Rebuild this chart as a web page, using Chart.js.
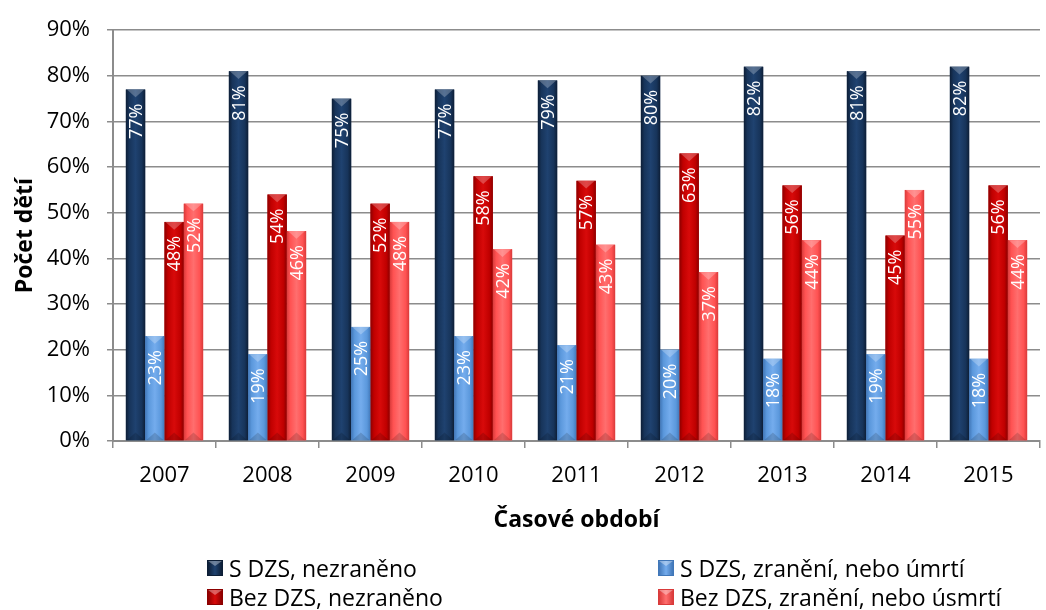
<!DOCTYPE html>
<html lang="cs">
<head>
  <meta charset="UTF-8" />
  <title>Počet dětí</title>
  <script src="https://cdn.jsdelivr.net/npm/chart.js"></script>
  <style>
    html, body { margin: 0; padding: 0; background: #fff; }
    .wrap { position: relative; width: 1046px; height: 610px; }
    #chart { position: absolute; left: 0; top: 0; }
    .legend { position: absolute; left: 0; top: 550px; width: 1046px; font-family: "Open Sans", sans-serif; font-size: 23px; color: #000; }
    .legend .item { position: absolute; display: flex; align-items: center; white-space: nowrap; line-height: 30px; }
    .legend .box { width: 16px; height: 16px; margin-right: 6px; position: relative; box-sizing: border-box; }
    .legend .box::after { content: ""; position: absolute; left: 0; top: 0; border-left: 7px solid transparent; border-right: 7px solid transparent; border-top: 5px solid rgba(255,255,255,0.35); }
  </style>
</head>
<body>
<div class="wrap">
  <canvas id="chart" width="1046" height="610"></canvas>
  <div class="legend" id="legend"></div>
</div>

<script>
  const years = ['2007', '2008', '2009', '2010', '2011', '2012', '2013', '2014', '2015'];
  const sDzsOk = [77, 81, 75, 77, 79, 80, 82, 81, 82];
  const sDzsHurt = [23, 19, 25, 23, 21, 20, 18, 19, 18];
  const bezDzsOk = [48, 54, 52, 58, 57, 63, 56, 45, 56];
  const bezDzsHurt = [52, 46, 48, 42, 43, 37, 44, 55, 44];
  const yTicks = [0, 10, 20, 30, 40, 50, 60, 70, 80, 90];

  const FONT = '"Open Sans", sans-serif';
  const gridGray = '#8c8c8c';

  // base, light, dark shade for each series
  const palette = [
    { base: '#17345a', light: '#1f4270', dark: '#0d1e36' },
    { base: '#5b98dc', light: '#74aced', dark: '#4177b8' },
    { base: '#c00000', light: '#d80a0a', dark: '#8c0000' },
    { base: '#ff5252', light: '#ff6e6e', dark: '#d93a3a' }
  ];

  const seriesNames = [
    'S DZS, nezraněno',
    'S DZS, zranění, nebo úmrtí',
    'Bez DZS, nezraněno',
    'Bez DZS, zranění, nebo úsmrtí'
  ];
  const seriesData = [sDzsOk, sDzsHurt, bezDzsOk, bezDzsHurt];

  // bevel shading + value labels on top of the flat bars
  const bevelBars = {
    id: 'bevelBars',
    afterDatasetsDraw(chart) {
      const ctx = chart.ctx;
      chart.data.datasets.forEach((ds, di) => {
        const meta = chart.getDatasetMeta(di);
        const col = palette[di];
        meta.data.forEach((bar, i) => {
          const w = bar.width;
          const l = bar.x - w / 2, r = bar.x + w / 2;
          const top = bar.y, bottom = bar.base;
          ctx.save();
          const g = ctx.createLinearGradient(l, 0, r, 0);
          g.addColorStop(0, col.dark);
          g.addColorStop(0.18, col.base);
          g.addColorStop(0.5, col.light);
          g.addColorStop(0.82, col.base);
          g.addColorStop(1, col.dark);
          ctx.fillStyle = g;
          ctx.fillRect(l, top, w, bottom - top);
          // top bevel
          ctx.fillStyle = 'rgba(255,255,255,0.25)';
          ctx.beginPath();
          ctx.moveTo(l + 1, top);
          ctx.lineTo(r - 1, top);
          ctx.lineTo(bar.x, top + w * 0.4);
          ctx.closePath();
          ctx.fill();
          // bottom bevel
          ctx.fillStyle = 'rgba(0,0,0,0.15)';
          ctx.beginPath();
          ctx.moveTo(l + 1, bottom);
          ctx.lineTo(r - 1, bottom);
          ctx.lineTo(bar.x, bottom - w * 0.4);
          ctx.closePath();
          ctx.fill();
          // value label, rotated
          const v = ds.data[i];
          ctx.translate(bar.x, top + 14);
          ctx.rotate(-Math.PI / 2);
          ctx.fillStyle = '#ffffff';
          ctx.font = '18px ' + FONT;
          ctx.textAlign = 'right';
          ctx.textBaseline = 'middle';
          ctx.fillText(v + '%', 0, 1);
          ctx.restore();
        });
      });
    }
  };

  const ctx = document.getElementById('chart').getContext('2d');
  const chart = new Chart(ctx, {
    type: 'bar',
    data: {
      labels: years,
      datasets: seriesData.map((d, i) => ({
        label: seriesNames[i],
        data: d,
        backgroundColor: palette[i].base,
        borderWidth: 0,
        categoryPercentage: 0.75,
        barPercentage: 1
      }))
    },
    options: {
      responsive: false,
      animation: false,
      layout: { padding: { top: 26, right: 6, bottom: 76, left: 0 } },
      plugins: {
        legend: { display: false },
        tooltip: { enabled: false }
      },
      scales: {
        x: {
          offset: true,
          grid: {
            offset: true,
            drawOnChartArea: false,
            color: gridGray,
            lineWidth: 1.5,
            tickLength: 7
          },
          border: { color: gridGray, width: 2 },
          ticks: { color: '#000', font: { family: FONT, size: 22 }, padding: 15 },
          title: {
            display: true,
            text: 'Časové období',
            color: '#000',
            font: { family: FONT, size: 23, weight: 'bold' },
            padding: { top: 0, bottom: 0 }
          },
          afterFit(scale) { scale.height = 93; }
        },
        y: {
          min: 0,
          max: 90,
          afterBuildTicks(scale) { scale.ticks = yTicks.map(v => ({ value: v })); },
          grid: { color: gridGray, lineWidth: 1.5, tickLength: 6 },
          border: { color: gridGray, width: 2 },
          ticks: {
            color: '#000',
            font: { family: FONT, size: 22 },
            padding: 17,
            callback: v => v + '%'
          },
          title: {
            display: true,
            text: 'Počet dětí',
            color: '#000',
            font: { family: FONT, size: 23, weight: 'bold' },
            padding: { top: 12, bottom: 0 }
          },
          afterFit(scale) { scale.width = 113; }
        }
      }
    },
    plugins: [bevelBars]
  });

  // two-column legend under the chart
  const legendEl = document.getElementById('legend');
  const legendPos = [[207, 3], [658, 3], [207, 32], [658, 32]];
  chart.data.datasets.forEach((ds, i) => {
    const item = document.createElement('div');
    item.className = 'item';
    item.style.left = legendPos[i][0] + 'px';
    item.style.top = legendPos[i][1] + 'px';
    const box = document.createElement('span');
    box.className = 'box';
    const c = palette[i];
    box.style.background = 'linear-gradient(90deg,' + c.dark + ',' + c.light + ' 50%,' + c.dark + ')';
    box.style.border = '1px solid ' + c.dark;
    const txt = document.createElement('span');
    txt.textContent = ds.label;
    item.appendChild(box);
    item.appendChild(txt);
    legendEl.appendChild(item);
  });
</script>
</body>
</html>
